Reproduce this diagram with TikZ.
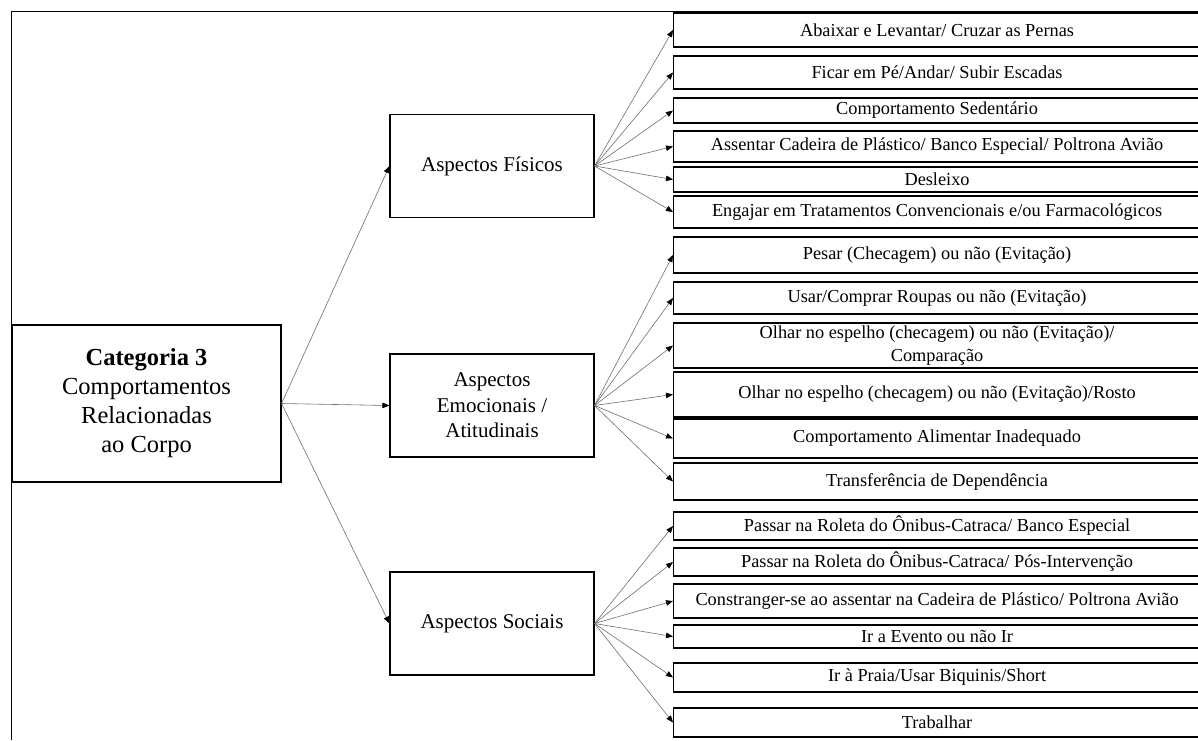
\documentclass[tikz,border=0pt]{standalone}
\usepackage{fontspec}
\setmainfont{Liberation Serif}
\usetikzlibrary{arrows.meta}
\definecolor{Wire}{HTML}{6E6E6E}
\tikzset{
  mainbox/.style={
    draw=black,line width=1.1pt,fill=white,
    minimum width=269pt,minimum height=157pt,align=center,
    font=\fontsize{24.5}{29}\selectfont
  },
  aspect/.style={
    draw=black,line width=1.1pt,fill=white,
    minimum width=204pt,minimum height=103pt,align=center,
    font=\fontsize{21}{25.5}\selectfont
  },
  item/.style={
    draw=black,line width=1.1pt,fill=white,anchor=west,
    minimum width=527pt,inner sep=0pt,align=center,
    font=\fontsize{18.3}{22.5}\selectfont
  },
  arrow/.style={-{Triangle[length=7pt,width=5.5pt,color=black]},line width=0.6pt,draw=Wire}
}
\begin{document}
\begin{tikzpicture}[x=1pt,y=-1pt]
  \useasboundingbox (0,0) rectangle (1198,740);
  \begin{scope}
    \clip (0,0) rectangle (1198,740);
    % frame
    \draw[line width=0.8pt] (11,740) -- (11,11) -- (1210,11);
    % main nodes
    \node[mainbox] (cat) at (146.5,403.5)
      {\textbf{Categoria 3}\\Comportamentos\\Relacionadas\\ao Corpo};
    \node[aspect] (fis) at (492,166) {Aspectos Físicos};
    \node[aspect] (emo) at (492,405.5) {Aspectos\\Emocionais /\\Atitudinais};
    \node[aspect] (soc) at (492,623.5) {Aspectos Sociais};
    % items
    \foreach \n/\y/\h/\t in {
      1/30/34/{Abaixar e Levantar/ Cruzar as Pernas},
      2/72.5/33/{Ficar em Pé/Andar/ Subir Escadas},
      3/110.5/25/{Comportamento Sedentário},
      4/146.5/31/{Assentar Cadeira de Plástico/ Banco Especial/ Poltrona Avião},
      5/179.5/25/{Desleixo},
      6/212/32/{Engajar em Tratamentos Convencionais e/ou Farmacológicos},
      7/255/36/{Pesar (Checagem) ou não (Evitação)},
      8/298/32/{Usar/Comprar Roupas ou não (Evitação)},
      9/345.5/45/{Olhar no espelho (checagem) ou não (Evitação)/\\Comparação},
      10/394.5/45/{Olhar no espelho (checagem) ou não (Evitação)/Rosto},
      11/438.5/39/{Comportamento Alimentar Inadequado},
      12/481.5/37/{Transferência de Dependência},
      13/526/28/{Passar na Roleta do Ônibus-Catraca/ Banco Especial},
      14/562/28/{Passar na Roleta do Ônibus-Catraca/ Pós-Intervenção},
      15/601/34/{Constranger-se ao assentar na Cadeira de Plástico/ Poltrona Avião},
      16/636.5/23/{Ir a Evento ou não Ir},
      17/677.5/29/{Ir à Praia/Usar Biquinis/Short},
      18/722.5/29/{Trabalhar}}
      \node[item,minimum height=\h pt] (r\n) at (673,\y) {\t};
    % connectors
    \foreach \a in {fis,emo,soc}
      \draw[arrow] (cat.east) -- (\a.west);
    \foreach \i in {1,...,6}
      \draw[arrow] (fis.east) -- (r\i.west);
    \foreach \i in {7,...,12}
      \draw[arrow] (emo.east) -- (r\i.west);
    \foreach \i in {13,...,18}
      \draw[arrow] (soc.east) -- (r\i.west);
  \end{scope}
\end{tikzpicture}
\end{document}
